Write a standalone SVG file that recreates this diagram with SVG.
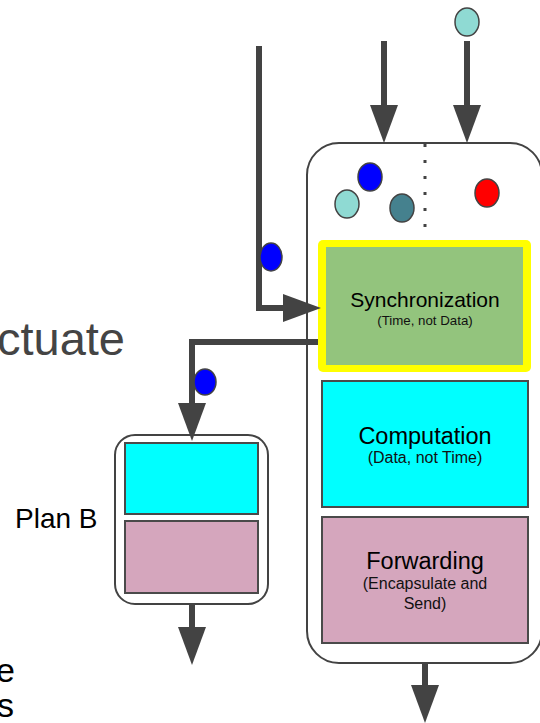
<svg xmlns="http://www.w3.org/2000/svg" width="540" height="723" viewBox="0 0 540 723">
  <style>
    .frame { fill: #ffffff; stroke: #434343; stroke-width: 2; }
    .stage { stroke: #4a4a4a; stroke-width: 2; }
    .flow { fill: none; stroke: #434343; stroke-width: 6; stroke-linejoin: miter; }
    .tok { stroke: #434343; stroke-width: 1.5; }
    .sans { font-family: "Liberation Sans", Arial, Helvetica, sans-serif; }
    .title { font-size: 23.5px; fill: #000000; text-anchor: middle; }
    .sub { font-size: 16px; fill: #111111; text-anchor: middle; }
  </style>
  <defs>
    <marker id="head" markerUnits="userSpaceOnUse" markerWidth="38" markerHeight="28" refX="0" refY="14" orient="auto" overflow="visible">
      <path d="M0,0 L38,14 L0,28 Z" fill="#434343"/>
    </marker>
  </defs>

  <!-- side labels -->
  <text class="sans" x="125" y="355" font-size="47" fill="#444444" text-anchor="end">ctuate</text>
  <text class="sans" x="15" y="528" font-size="28" fill="#000000">Plan B</text>
  <text class="sans" x="15" y="682" font-size="34" fill="#000000" text-anchor="end">e</text>
  <text class="sans" x="14" y="717" font-size="34" fill="#000000" text-anchor="end">s</text>

  <!-- main reactor -->
  <g id="reactor">
    <rect class="frame" x="307" y="143" width="235" height="520" rx="32" ry="32"/>
    <line x1="425" y1="144" x2="425" y2="244" stroke="#434343" stroke-width="3" stroke-dasharray="3 13"/>
  </g>

  <g id="synchronization">
    <rect x="318" y="240" width="213" height="132" rx="5" fill="#ffff00"/>
    <rect x="326" y="247" width="197" height="118" fill="#93c47d"/>
    <text class="sans" x="425" y="307" font-size="21px" fill="#000000" text-anchor="middle">Synchronization</text>
    <text class="sans" x="425" y="325" font-size="13.3px" fill="#111111" text-anchor="middle">(Time, not Data)</text>
  </g>

  <g id="computation">
    <rect class="stage" x="322" y="381" width="206" height="126" fill="#00ffff"/>
    <text class="sans title" x="425" y="444">Computation</text>
    <text class="sans sub" x="425" y="463">(Data, not Time)</text>
  </g>

  <g id="forwarding">
    <rect class="stage" x="322" y="517" width="206" height="126" fill="#d5a6bd"/>
    <text class="sans title" x="425" y="569">Forwarding</text>
    <text class="sans sub" x="425" y="589">(Encapsulate and</text>
    <text class="sans sub" x="425" y="609">Send)</text>
  </g>

  <!-- fallback reactor -->
  <g id="plan-b">
    <rect class="frame" x="115" y="435" width="153" height="169" rx="20" ry="20"/>
    <rect class="stage" x="125" y="443" width="133" height="71" fill="#00ffff"/>
    <rect class="stage" x="125" y="521" width="133" height="72" fill="#d5a6bd"/>
  </g>

  <!-- connectors -->
  <g id="connectors">
    <path class="flow" d="M384,41 V105" marker-end="url(#head)"/>
    <path class="flow" d="M467,41 V105" marker-end="url(#head)"/>
    <path class="flow" d="M259,46 V308 H283" marker-end="url(#head)"/>
    <path class="flow" d="M318,342 H192 V403" marker-end="url(#head)"/>
    <path class="flow" d="M192,604 V627" marker-end="url(#head)"/>
    <path class="flow" d="M425,664 V685" marker-end="url(#head)"/>
  </g>

  <!-- tokens -->
  <g id="tokens">
    <ellipse class="tok" cx="467" cy="22" rx="12" ry="14" fill="#8fdad3"/>
    <ellipse class="tok" cx="370" cy="177" rx="12" ry="14" fill="#0000ff"/>
    <ellipse class="tok" cx="347" cy="204" rx="12" ry="14" fill="#8fdad3"/>
    <ellipse class="tok" cx="402" cy="208" rx="12" ry="14" fill="#45818e"/>
    <ellipse class="tok" cx="487" cy="193" rx="12" ry="14" fill="#ff0000"/>
    <ellipse class="tok" cx="271" cy="257" rx="11" ry="14" fill="#0000ff"/>
    <ellipse class="tok" cx="205" cy="382" rx="11" ry="13" fill="#0000ff"/>
  </g>
</svg>
